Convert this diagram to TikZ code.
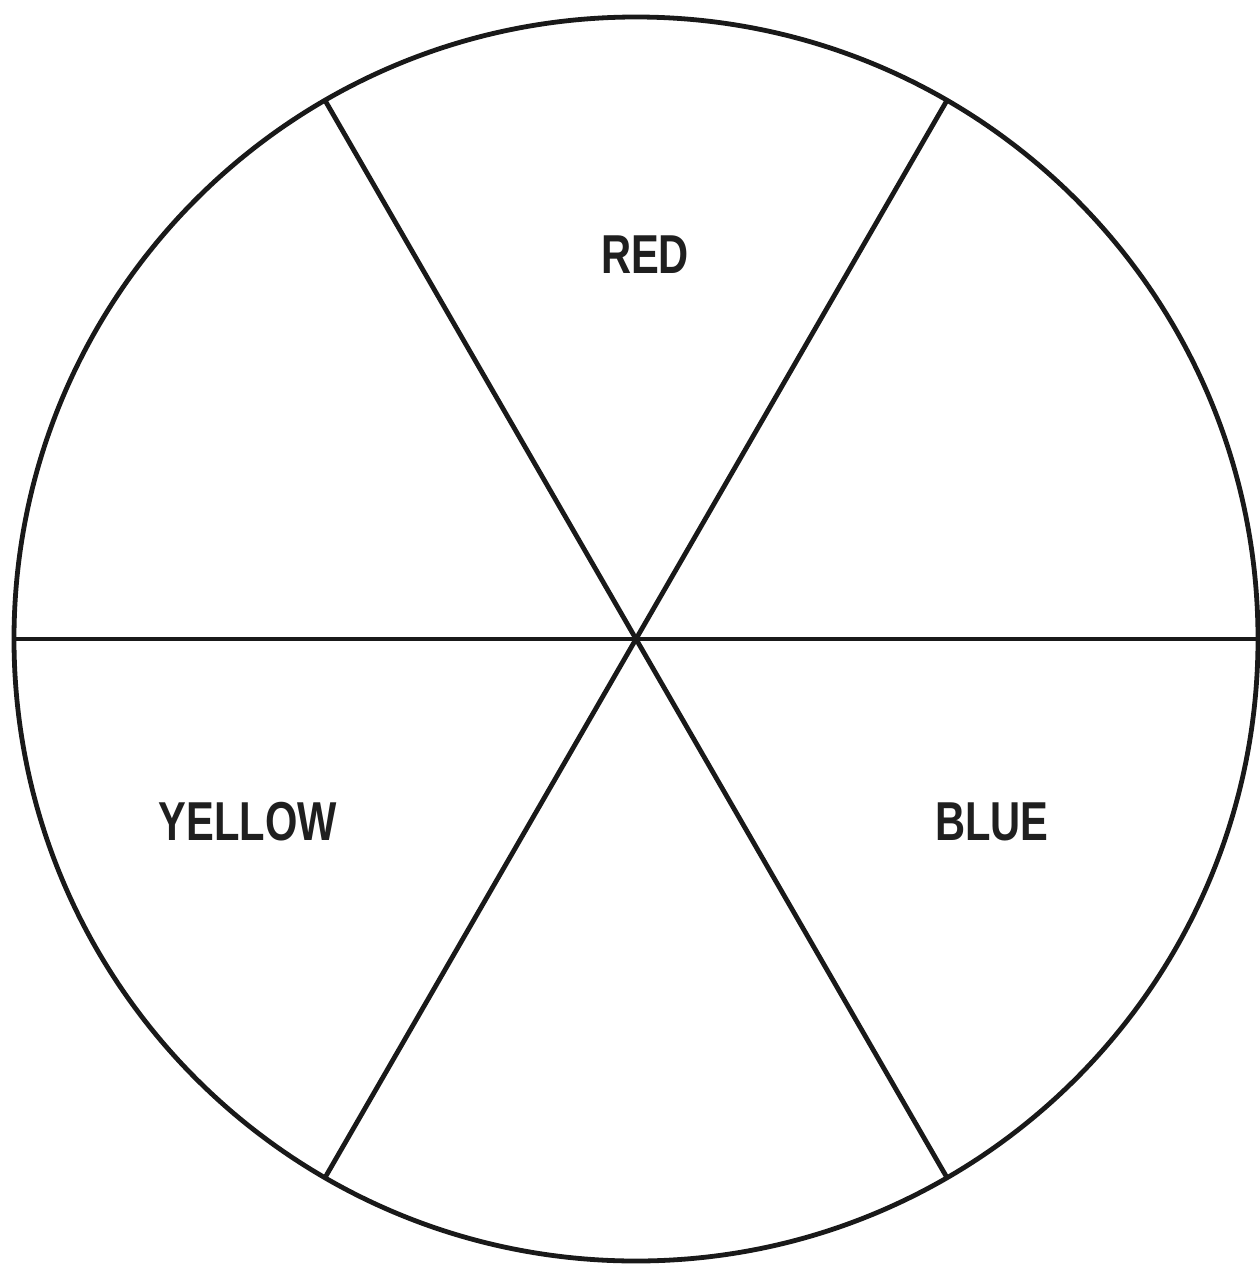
\documentclass[tikz,border=0pt]{standalone}
\usepackage{fontspec}
\setmainfont{Liberation Sans}
\begin{document}
\begin{tikzpicture}[x=0.05cm,y=-0.05cm,
  wheel/.style={line width=0.24cm,draw=black!90},
  lbl/.style={font=\fontsize{78}{90}\selectfont\bfseries,xscale=0.76,text=black!88,inner sep=0pt}]
\useasboundingbox (0,0) rectangle (1260,1264);
\coordinate (c) at (636,639);
\draw[wheel] (c) circle [radius=622*0.05cm];
\foreach \a in {0,60,...,300}{
  \draw[wheel] (c) -- ++(\a:622*0.05cm);
}
\node[lbl] (red) at (645,255) {RED};
\node[lbl] (yellow) at (248,822) {YELLOW};
\node[lbl] (blue) at (992,822) {BLUE};
\end{tikzpicture}
\end{document}
